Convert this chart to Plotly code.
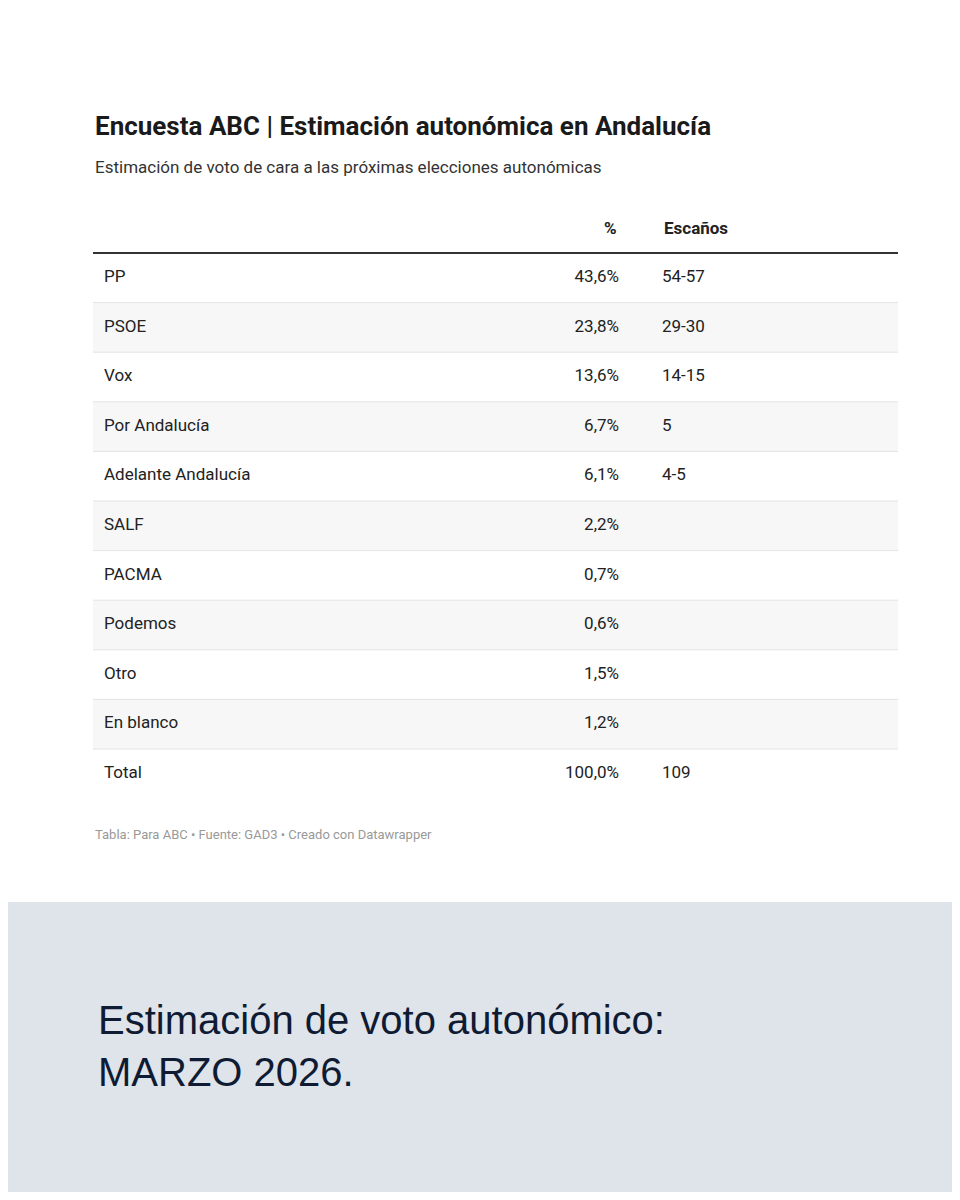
import plotly.graph_objects as go

partidos = ["PP", "PSOE", "Vox", "Por Andalucía", "Adelante Andalucía", "SALF",
            "PACMA", "Podemos", "Otro", "En blanco", "Total"]
porcentaje = ["43,6%", "23,8%", "13,6%", "6,7%", "6,1%", "2,2%",
              "0,7%", "0,6%", "1,5%", "1,2%", "100,0%"]
escanos = ["54-57", "29-30", "14-15", "5", "4-5", "", "", "", "", "", "109"]

W, H = 960, 1200
OFF = 8  # page body margin
top, row_h = 253, 49.6
left, right = 93, 898
ys = [top + row_h * (i + 0.5) for i in range(len(partidos))]

fig = go.Figure()
shapes = []
shapes.append(dict(type="rect", x0=0, x1=W, y0=902, y1=H, fillcolor="#dfe4ea", line_width=0, layer="below"))
for i in range(len(partidos)):
    y0 = top + row_h * i
    if i % 2 == 1:
        shapes.append(dict(type="rect", x0=left, x1=right, y0=y0, y1=y0 + row_h,
                           fillcolor="#f7f7f7", line_width=0, layer="below"))
    if i > 0:
        shapes.append(dict(type="line", x0=left, x1=right, y0=y0, y1=y0, line=dict(color="#e4e4e4", width=1)))
shapes.append(dict(type="line", x0=left, x1=right, y0=top, y1=top, line=dict(color="#333333", width=2)))

font = dict(family="Roboto", size=17, color="#222222")
fig.add_trace(go.Scatter(x=[104] * len(partidos), y=ys, text=partidos, mode="text",
                         textposition="middle right", textfont=font, hoverinfo="skip"))
fig.add_trace(go.Scatter(x=[619] * len(partidos), y=ys, text=porcentaje, mode="text",
                         textposition="middle left", textfont=font, hoverinfo="skip"))
fig.add_trace(go.Scatter(x=[662] * len(partidos), y=ys, text=escanos, mode="text",
                         textposition="middle right", textfont=font, hoverinfo="skip"))

ann = [
    dict(x=93, y=126, text="<b>Encuesta ABC | Estimación autonómica en Andalucía</b>",
         font=dict(family="Roboto", size=26, color="#1a1a1a"), xanchor="left"),
    dict(x=93, y=167, text="Estimación de voto de cara a las próximas elecciones autonómicas",
         font=dict(family="Roboto", size=17, color="#333333"), xanchor="left"),
    dict(x=619, y=228, text="<b>%</b>", font=dict(family="Roboto", size=17, color="#222222"), xanchor="right"),
    dict(x=662, y=228, text="<b>Escaños</b>", font=dict(family="Roboto", size=17, color="#222222"), xanchor="left"),
    dict(x=93, y=834, text="Tabla: Para ABC • Fuente: GAD3 • Creado con Datawrapper",
         font=dict(family="Roboto", size=13, color="#999999"), xanchor="left"),
    dict(x=96, y=1046, text="Estimación de voto autonómico:<br>MARZO 2026.", align="left",
         font=dict(family="Liberation Sans", size=40, color="#0f1b33"), xanchor="left"),
]
for a in ann:
    a.update(showarrow=False, xref="x", yref="y", yanchor="middle")

fig.update_layout(
    width=W - OFF, height=H - 2 * OFF, margin=dict(l=0, r=0, t=0, b=0),
    paper_bgcolor="white", plot_bgcolor="white", showlegend=False,
    xaxis=dict(range=[OFF, W], visible=False, fixedrange=True),
    yaxis=dict(range=[H - OFF, OFF], visible=False, fixedrange=True),
    shapes=shapes, annotations=ann,
)
fig.write_html("out.html")
